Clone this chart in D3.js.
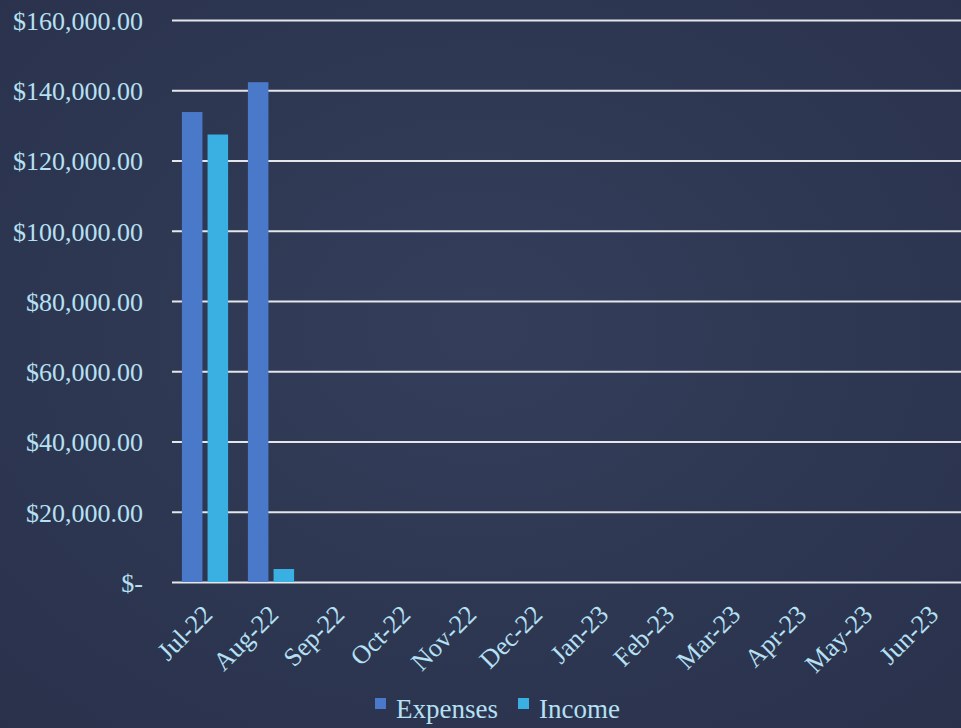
<!DOCTYPE html>
<html>
<head>
<meta charset="utf-8">
<script src="https://cdn.jsdelivr.net/npm/d3@7"></script>
<style>
  html, body { margin: 0; padding: 0; background: #2e3752; }
  svg { display: block; }
</style>
</head>
<body>
<svg id="chart" width="961" height="728"></svg>
<script>
// Monthly expenses vs income, FY Jul-22 .. Jun-23
const months = ["Jul-22", "Aug-22", "Sep-22", "Oct-22", "Nov-22", "Dec-22",
                "Jan-23", "Feb-23", "Mar-23", "Apr-23", "May-23", "Jun-23"];
const seriesNames = ["Expenses", "Income"];
const expenses = [133800, 142300, 0, 0, 0, 0, 0, 0, 0, 0, 0, 0];
const income   = [127400, 3700, 0, 0, 0, 0, 0, 0, 0, 0, 0, 0];
const yTicks = [0, 20000, 40000, 60000, 80000, 100000, 120000, 140000, 160000];

const colors = { Expenses: "#4a79c9", Income: "#3aafe2" };
const textColor = "#b6e0f3";
const font = "'Liberation Serif', 'Times New Roman', serif";

const W = 961, H = 728;
const m = { left: 172, right: -3, top: 20, bottom: 146 };

const svg = d3.select("#chart");

// background with a gentle vignette
const defs = svg.append("defs");
const bg = defs.append("radialGradient").attr("id", "bg")
  .attr("cx", "50%").attr("cy", "45%").attr("r", "75%");
bg.append("stop").attr("offset", "0%").attr("stop-color", "#343e5a");
bg.append("stop").attr("offset", "100%").attr("stop-color", "#29314b");
svg.append("rect").attr("width", W).attr("height", H).attr("fill", "url(#bg)");

const x0 = d3.scaleBand().domain(months)
  .range([m.left, W - m.right]).paddingInner(0.3).paddingOuter(0.15);
const x1 = d3.scaleBand().domain(seriesNames)
  .range([0, x0.bandwidth()]).paddingInner(0.2);
const y = d3.scaleLinear().domain([0, 160000]).range([H - m.bottom, m.top]);

const fmt = v => v === 0 ? "$-" : "$" + d3.format(",.2f")(v);

// horizontal gridlines
const yAxis = d3.axisLeft(y).tickValues(yTicks).tickFormat(fmt)
  .tickSize(-(W - m.left)).tickPadding(29);
const gy = svg.append("g").attr("transform", `translate(${m.left},0)`).call(yAxis);
gy.select(".domain").remove();
gy.selectAll(".tick line").attr("stroke", "#e4e6ea").attr("stroke-width", 2.2);
gy.selectAll(".tick text")
  .attr("fill", textColor).attr("font-family", font).attr("font-size", 26)
  .attr("dy", "0.36em");

// bars
const data = months.map((mo, i) => ({ month: mo, Expenses: expenses[i], Income: income[i] }));
const groups = svg.append("g").selectAll("g").data(data).join("g")
  .attr("transform", d => `translate(${x0(d.month)},0)`);
groups.selectAll("rect")
  .data(d => seriesNames.map(k => ({ key: k, value: d[k] })))
  .join("rect")
  .attr("x", d => x1(d.key))
  .attr("width", x1.bandwidth())
  .attr("y", d => y(d.value))
  .attr("height", d => y(0) - y(d.value))
  .attr("fill", d => colors[d.key]);

// category axis, labels rotated 45 degrees
const xAxis = d3.axisBottom(x0).tickSize(0).tickPadding(0);
const gx = svg.append("g").attr("transform", `translate(0,${y(0)})`).call(xAxis);
gx.select(".domain").remove();
gx.selectAll(".tick text")
  .attr("fill", textColor).attr("font-family", font).attr("font-size", 26)
  .attr("text-anchor", "end")
  .attr("dy", null).attr("y", 0)
  .attr("transform", "translate(9,34) rotate(-45)");

// legend
const legend = svg.append("g").attr("transform", `translate(375,${H - 10})`);
const items = [{ key: "Expenses", dx: 0 }, { key: "Income", dx: 143 }];
items.forEach(it => {
  const g = legend.append("g").attr("transform", `translate(${it.dx},0)`);
  g.append("rect").attr("x", 0).attr("y", -20).attr("width", 11).attr("height", 11)
    .attr("fill", colors[it.key]);
  g.append("text").attr("x", 21).attr("y", 0)
    .attr("fill", textColor).attr("font-family", font).attr("font-size", 27)
    .text(it.key);
});
</script>
</body>
</html>
